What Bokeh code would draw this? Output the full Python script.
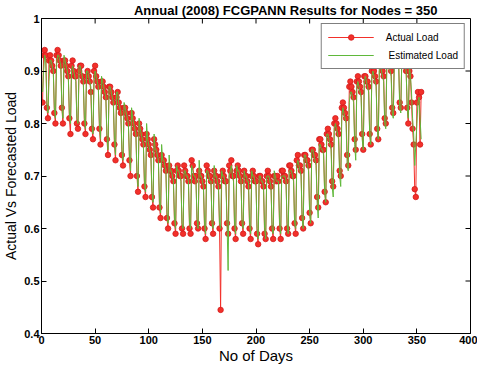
import math
from bokeh.plotting import figure
from bokeh.models import Range1d, LinearAxis, FixedTicker, Title, Legend, LegendItem
from bokeh.embed import file_html
from bokeh.resources import INLINE

# Daily load, 2008 (day 1 = Tue 1 Jan); one row per week (Mon..Sun)
actual_load = [
    0.84, 0.93, 0.94, 0.93, 0.83, 0.81,
    0.92, 0.93, 0.92, 0.91, 0.90, 0.82, 0.80,
    0.93, 0.94, 0.93, 0.92, 0.91, 0.83, 0.80,
    0.92, 0.92, 0.91, 0.90, 0.89, 0.81, 0.78,
    0.91, 0.92, 0.90, 0.89, 0.89, 0.80, 0.79,
    0.90, 0.91, 0.91, 0.89, 0.88, 0.80, 0.78,
    0.89, 0.90, 0.89, 0.88, 0.86, 0.79, 0.77,
    0.90, 0.91, 0.89, 0.88, 0.87, 0.79, 0.76,
    0.88, 0.88, 0.87, 0.86, 0.85, 0.77, 0.74,
    0.87, 0.87, 0.86, 0.85, 0.84, 0.76, 0.73,
    0.85, 0.86, 0.84, 0.83, 0.82, 0.74, 0.72,
    0.83, 0.83, 0.82, 0.81, 0.80, 0.73, 0.70,
    0.82, 0.81, 0.80, 0.79, 0.78, 0.70, 0.67,
    0.80, 0.79, 0.78, 0.77, 0.76, 0.68, 0.66,
    0.78, 0.77, 0.76, 0.75, 0.74, 0.66, 0.64,
    0.77, 0.76, 0.75, 0.74, 0.73, 0.64, 0.62,
    0.74, 0.73, 0.73, 0.72, 0.71, 0.62, 0.60,
    0.72, 0.71, 0.71, 0.70, 0.69, 0.61, 0.59,
    0.71, 0.72, 0.71, 0.70, 0.70, 0.60, 0.59,
    0.72, 0.71, 0.70, 0.70, 0.69, 0.60, 0.59,
    0.73, 0.72, 0.70, 0.69, 0.70, 0.61, 0.60,
    0.71, 0.70, 0.70, 0.69, 0.68, 0.60, 0.58,
    0.72, 0.71, 0.70, 0.70, 0.69, 0.61, 0.59,
    0.71, 0.70, 0.70, 0.69, 0.68, 0.60, 0.445,
    0.70, 0.71, 0.70, 0.69, 0.69, 0.61, 0.59,
    0.72, 0.71, 0.73, 0.70, 0.70, 0.60, 0.58,
    0.71, 0.72, 0.71, 0.70, 0.69, 0.61, 0.59,
    0.71, 0.70, 0.70, 0.69, 0.68, 0.60, 0.58,
    0.70, 0.71, 0.70, 0.69, 0.69, 0.59, 0.57,
    0.70, 0.70, 0.69, 0.69, 0.68, 0.59, 0.58,
    0.70, 0.71, 0.70, 0.69, 0.68, 0.60, 0.58,
    0.70, 0.70, 0.69, 0.70, 0.69, 0.60, 0.58,
    0.71, 0.71, 0.70, 0.70, 0.69, 0.60, 0.59,
    0.72, 0.72, 0.71, 0.70, 0.70, 0.61, 0.59,
    0.73, 0.74, 0.72, 0.72, 0.71, 0.62, 0.60,
    0.74, 0.74, 0.73, 0.73, 0.72, 0.63, 0.61,
    0.75, 0.75, 0.74, 0.74, 0.73, 0.66, 0.64,
    0.77, 0.77, 0.76, 0.75, 0.75, 0.67, 0.65,
    0.78, 0.79, 0.78, 0.77, 0.76, 0.69, 0.68,
    0.80, 0.81, 0.80, 0.79, 0.78, 0.71, 0.70,
    0.83, 0.84, 0.83, 0.82, 0.81, 0.74, 0.72,
    0.87, 0.88, 0.87, 0.86, 0.85, 0.77, 0.75,
    0.88, 0.89, 0.88, 0.87, 0.86, 0.78, 0.75,
    0.89, 0.89, 0.88, 0.88, 0.87, 0.78, 0.76,
    0.90, 0.91, 0.90, 0.89, 0.88, 0.79, 0.77,
    0.91, 0.92, 0.91, 0.90, 0.89, 0.81, 0.80,
    0.92, 0.93, 0.92, 0.91, 0.90, 0.83, 0.82,
    0.93, 0.94, 0.93, 0.92, 0.92, 0.84, 0.83,
    0.93, 0.93, 0.92, 0.91, 0.90, 0.83, 0.80,
    0.90, 0.89, 0.84, 0.79, 0.76, 0.675, 0.66,
    0.84, 0.86, 0.85, 0.76, 0.86,
]

estimated_load = [
    0.86, 0.90, 0.93, 0.92, 0.84, 0.82,
    0.88, 0.92, 0.92, 0.91, 0.90, 0.83, 0.81,
    0.91, 0.93, 0.93, 0.92, 0.91, 0.83, 0.81,
    0.93, 0.92, 0.91, 0.90, 0.89, 0.82, 0.80,
    0.90, 0.91, 0.90, 0.89, 0.88, 0.81, 0.80,
    0.91, 0.91, 0.90, 0.89, 0.88, 0.81, 0.79,
    0.90, 0.90, 0.89, 0.88, 0.87, 0.80, 0.78,
    0.88, 0.90, 0.89, 0.88, 0.87, 0.80, 0.77,
    0.89, 0.88, 0.87, 0.86, 0.85, 0.78, 0.75,
    0.87, 0.87, 0.86, 0.85, 0.84, 0.77, 0.74,
    0.86, 0.86, 0.84, 0.83, 0.82, 0.75, 0.73,
    0.84, 0.83, 0.82, 0.81, 0.80, 0.74, 0.71,
    0.83, 0.81, 0.80, 0.79, 0.78, 0.71, 0.68,
    0.81, 0.79, 0.78, 0.77, 0.76, 0.69, 0.67,
    0.80, 0.77, 0.76, 0.75, 0.74, 0.67, 0.65,
    0.78, 0.75, 0.75, 0.74, 0.73, 0.65, 0.63,
    0.76, 0.73, 0.73, 0.72, 0.71, 0.63, 0.61,
    0.74, 0.71, 0.71, 0.70, 0.69, 0.62, 0.60,
    0.72, 0.71, 0.71, 0.70, 0.69, 0.61, 0.60,
    0.71, 0.71, 0.70, 0.70, 0.69, 0.61, 0.60,
    0.72, 0.71, 0.70, 0.70, 0.69, 0.62, 0.60,
    0.73, 0.70, 0.70, 0.69, 0.68, 0.61, 0.59,
    0.71, 0.71, 0.70, 0.69, 0.69, 0.61, 0.60,
    0.72, 0.70, 0.70, 0.69, 0.68, 0.61, 0.60,
    0.71, 0.70, 0.70, 0.69, 0.68, 0.61, 0.52,
    0.70, 0.71, 0.72, 0.70, 0.69, 0.61, 0.59,
    0.72, 0.71, 0.71, 0.70, 0.69, 0.61, 0.60,
    0.71, 0.70, 0.70, 0.69, 0.69, 0.61, 0.59,
    0.71, 0.70, 0.70, 0.69, 0.68, 0.60, 0.58,
    0.70, 0.70, 0.69, 0.69, 0.68, 0.60, 0.58,
    0.70, 0.70, 0.70, 0.69, 0.68, 0.60, 0.59,
    0.71, 0.70, 0.69, 0.69, 0.69, 0.61, 0.59,
    0.70, 0.70, 0.70, 0.70, 0.69, 0.61, 0.59,
    0.71, 0.71, 0.71, 0.70, 0.69, 0.61, 0.60,
    0.72, 0.73, 0.72, 0.71, 0.70, 0.62, 0.60,
    0.74, 0.74, 0.73, 0.72, 0.71, 0.63, 0.61,
    0.75, 0.75, 0.74, 0.73, 0.72, 0.65, 0.62,
    0.76, 0.76, 0.75, 0.75, 0.74, 0.67, 0.65,
    0.78, 0.78, 0.77, 0.76, 0.75, 0.68, 0.66,
    0.79, 0.80, 0.79, 0.78, 0.77, 0.70, 0.68,
    0.81, 0.83, 0.82, 0.81, 0.80, 0.72, 0.71,
    0.84, 0.86, 0.86, 0.85, 0.84, 0.76, 0.73,
    0.87, 0.88, 0.87, 0.86, 0.85, 0.77, 0.75,
    0.88, 0.89, 0.88, 0.87, 0.86, 0.78, 0.76,
    0.89, 0.90, 0.89, 0.88, 0.87, 0.79, 0.77,
    0.90, 0.91, 0.90, 0.89, 0.88, 0.80, 0.79,
    0.91, 0.92, 0.91, 0.90, 0.89, 0.82, 0.81,
    0.92, 0.93, 0.92, 0.91, 0.91, 0.83, 0.82,
    0.93, 0.93, 0.92, 0.91, 0.90, 0.83, 0.81,
    0.91, 0.89, 0.86, 0.81, 0.78, 0.72, 0.76,
    0.80, 0.84, 0.85, 0.81, 0.77,
]

days = list(range(1, len(actual_load) + 1))

x_ticks = [0, 50, 100, 150, 200, 250, 300, 350, 400]
y_ticks = [0.4, 0.5, 0.6, 0.7, 0.8, 0.9, 1.0]
y_tick_labels = {0.4: "0.4", 0.5: "0.5", 0.6: "0.6", 0.7: "0.7",
                 0.8: "0.8", 0.9: "0.9", 1.0: "1"}

title_text = "Annual (2008) FCGPANN Results for Nodes = 350"
FONT = "Liberation Sans"

p = figure(width=477, height=366, output_backend="svg", toolbar_location=None,
           title=None, x_range=Range1d(0, 400), y_range=Range1d(0.4, 1.0),
           x_axis_type=None, y_axis_type=None,
           min_border_left=34, min_border_right=7, min_border_top=4,
           min_border_bottom=28)
p.background_fill_color = "white"
p.border_fill_color = "white"
p.outline_line_color = "black"
p.outline_line_width = 1
p.xgrid.visible = False
p.ygrid.visible = False

title = Title(text=title_text, align="right", offset=33, standoff=1,
              text_font=FONT, text_font_size="13px", text_font_style="bold",
              text_color="black")
p.add_layout(title, "above")


def style_axis(ax):
    ax.axis_line_color = "black"
    ax.major_tick_line_color = "black"
    ax.major_tick_in = 5
    ax.major_tick_out = 0
    ax.minor_tick_line_color = None
    ax.major_label_text_font = FONT
    ax.major_label_text_font_style = "bold"
    ax.major_label_text_color = "black"
    ax.major_label_text_font_size = "11px"
    ax.major_label_standoff = 2
    ax.axis_label_text_color = "black"


xb = LinearAxis(ticker=FixedTicker(ticks=x_ticks), axis_label="No of Days")
style_axis(xb)
xb.axis_label_text_font = FONT
xb.axis_label_text_font_size = "15px"
xb.axis_label_text_font_style = "normal"
xb.axis_label_standoff = 0
p.add_layout(xb, "below")

yl = LinearAxis(ticker=FixedTicker(ticks=y_ticks), axis_label="Actual Vs Forecasted Load",
                major_label_overrides=y_tick_labels)
style_axis(yl)
yl.axis_label_text_font = FONT
yl.axis_label_text_font_size = "14px"
yl.axis_label_text_font_style = "normal"
yl.axis_label_standoff = 2
p.add_layout(yl, "left")

# inward tick marks on the top and right edges of the box
p.ray(x=x_ticks, y=[1.0] * len(x_ticks), length=5, length_units="screen",
      angle=-math.pi / 2, line_color="black", line_width=1)
p.ray(x=[400] * len(y_ticks), y=y_ticks, length=5, length_units="screen",
      angle=math.pi, line_color="black", line_width=1)

RED = "#f2302a"
GREEN = "#5fb83a"

r_line = p.line(days, actual_load, line_color=RED, line_width=1)
r_pts = p.scatter(days, actual_load, marker="circle", size=5.5,
                  fill_color=RED, line_color="#d41c1c", line_width=0.8)
g_line = p.line(days, estimated_load, line_color=GREEN, line_width=1)

legend = Legend(items=[LegendItem(label="Actual Load", renderers=[r_line, r_pts]),
                       LegendItem(label=" Estimated Load", renderers=[g_line])],
                location="top_right")
legend.border_line_color = "black"
legend.border_line_width = 1
legend.background_fill_color = "white"
legend.background_fill_alpha = 1.0
legend.label_text_font = FONT
legend.label_text_font_size = "10px"
legend.label_text_color = "black"
legend.glyph_width = 46
legend.glyph_height = 14
legend.label_height = 14
legend.label_standoff = 12
legend.padding = 6
legend.spacing = 4
legend.margin = 5
p.add_layout(legend, "center")

html = file_html(p, INLINE)
open("out.html", "w").write(html)
